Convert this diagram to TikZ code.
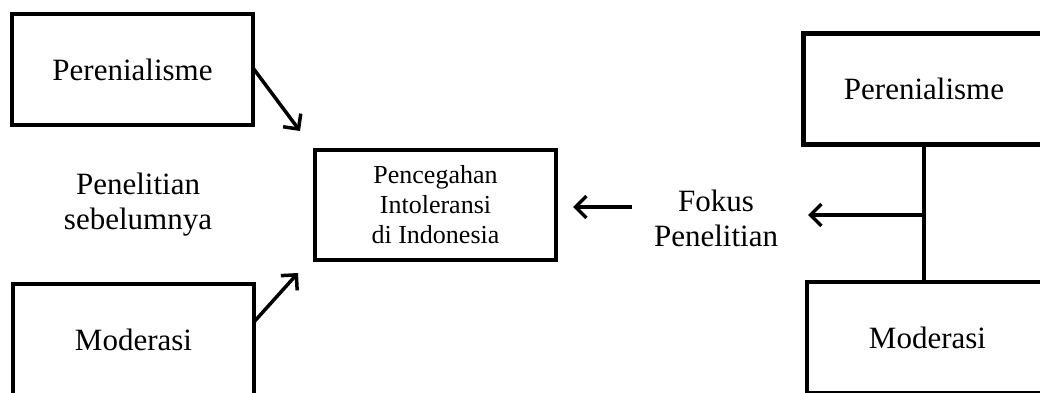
\documentclass[tikz,border=0pt]{standalone}
\usepackage{fontspec}
\setmainfont{Liberation Serif}
\usetikzlibrary{arrows.meta}
\begin{document}
\begin{tikzpicture}[x=1pt,y=1pt,
  box/.style={draw=black,line width=4.5pt,minimum width=241pt,minimum height=111pt,inner sep=0pt,align=center,font=\fontsize{31}{35}\selectfont},
  smallbox/.style={box,minimum height=110pt,font=\fontsize{26}{30}\selectfont},
  lbl/.style={align=center,font=\fontsize{31}{35}\selectfont},
  arr/.style={line width=3.5pt,-{Straight Barb[length=11pt,width=22pt,line width=3.5pt]}}]
\useasboundingbox (0,0) rectangle (1040,392);
\begin{scope}
\clip (0,0) rectangle (1040,392);
\node[box] (lt) at (132.5,322.5) {Perenialisme};
\node[box] (lb) at (133.5,52.5) {Moderasi};
\node[smallbox] (c) at (435.5,187) {Pencegahan\\Intoleransi\\di Indonesia};
\node[box] (rt) at (924,303) {Perenialisme};
\node[box] (rb) at (927.5,54.5) {Moderasi};
\node[lbl] (pen) at (138,187) {Penelitian\\sebelumnya};
\node[lbl] (fok) at (716,173.5) {Fokus\\Penelitian};
\coordinate (t1) at (300,261);
\coordinate (t2) at (298,119);
\coordinate (a1) at (632,185);
\coordinate (a2) at (573,185);
\coordinate (j) at (924,177);
\coordinate (t3) at (808,177);
\draw[arr] (253,324) -- (t1);
\draw[arr] (253,69) -- (t2);
\draw[arr] (a1) -- (a2);
\draw[line width=3.5pt] (rt.south) -- (rt.south |- rb.north);
\draw[arr] (j) -- (t3);
\end{scope}
\end{tikzpicture}
\end{document}
